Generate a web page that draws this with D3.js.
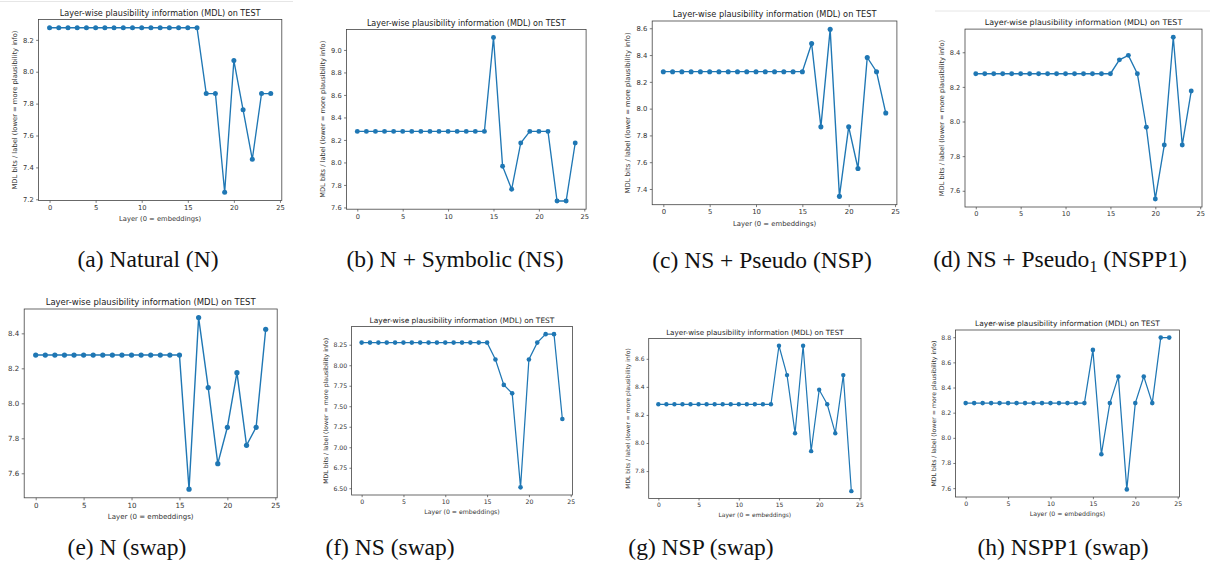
<!DOCTYPE html>
<html>
<head>
<meta charset="utf-8">
<script src="https://cdn.jsdelivr.net/npm/d3@7"></script>
<style>
  body { margin: 0; background: #fff; }
  svg { display: block; }
</style>
</head>
<body>
<svg id="chart"></svg>
<script>
// Data
const layers = [0, 1, 2, 3, 4, 5, 6, 7, 8, 9, 10, 11, 12, 13, 14, 15, 16, 17, 18, 19, 20, 21, 22, 23, 24];
const xTicks = [0, 5, 10, 15, 20, 25];

const mdlN = [8.276, 8.276, 8.276, 8.276, 8.276, 8.276, 8.276, 8.276, 8.276, 8.276, 8.276, 8.276, 8.276, 8.276, 8.276, 8.276, 8.276,
  7.863, 7.863, 7.244, 8.070, 7.761, 7.451, 7.863, 7.863];
const mdlNS = [8.276, 8.276, 8.276, 8.276, 8.276, 8.276, 8.276, 8.276, 8.276, 8.276, 8.276, 8.276, 8.276, 8.276, 8.276,
  9.110, 7.967, 7.761, 8.173, 8.276, 8.276, 8.276, 7.657, 7.657, 8.173];
const mdlNSP = [8.276, 8.276, 8.276, 8.276, 8.276, 8.276, 8.276, 8.276, 8.276, 8.276, 8.276, 8.276, 8.276, 8.276, 8.276, 8.276,
  8.486, 7.864, 8.592, 7.345, 7.864, 7.553, 8.382, 8.276, 7.967];
const mdlNSPP1 = [8.276, 8.276, 8.276, 8.276, 8.276, 8.276, 8.276, 8.276, 8.276, 8.276, 8.276, 8.276, 8.276, 8.276, 8.276, 8.276,
  8.356, 8.382, 8.276, 7.967, 7.553, 7.864, 8.487, 7.864, 8.176];
const mdlNSwap = [8.276, 8.276, 8.276, 8.276, 8.276, 8.276, 8.276, 8.276, 8.276, 8.276, 8.276, 8.276, 8.276, 8.276, 8.276, 8.276,
  7.509, 8.490, 8.090, 7.655, 7.863, 8.175, 7.760, 7.863, 8.423];
const mdlNSSwap = [8.276, 8.276, 8.276, 8.276, 8.276, 8.276, 8.276, 8.276, 8.276, 8.276, 8.276, 8.276, 8.276, 8.276, 8.276, 8.276,
  8.070, 7.760, 7.657, 6.511, 8.070, 8.276, 8.379, 8.379, 7.345];
const mdlNSPSwap = [8.276, 8.276, 8.276, 8.276, 8.276, 8.276, 8.276, 8.276, 8.276, 8.276, 8.276, 8.276, 8.276, 8.276, 8.276,
  8.693, 8.484, 8.070, 8.693, 7.942, 8.379, 8.276, 8.070, 8.484, 7.657];
const mdlNSPP1Swap = [8.276, 8.276, 8.276, 8.276, 8.276, 8.276, 8.276, 8.276, 8.276, 8.276, 8.276, 8.276, 8.276, 8.276, 8.276,
  8.699, 7.870, 8.276, 8.487, 7.590, 8.276, 8.487, 8.276, 8.797, 8.797];

// y tick labels per panel
const yTicksN = [7.2, 7.4, 7.6, 7.8, 8.0, 8.2];
const yTicksNS = [7.6, 7.8, 8.0, 8.2, 8.4, 8.6, 8.8, 9.0];
const yTicksNSP = [7.4, 7.6, 7.8, 8.0, 8.2, 8.4, 8.6];
const yTicksNSPP1 = [7.6, 7.8, 8.0, 8.2, 8.4];
const yTicksNSwap = [7.6, 7.8, 8.0, 8.2, 8.4];
const yTicksNSSwap = [6.50, 6.75, 7.00, 7.25, 7.50, 7.75, 8.00, 8.25];
const yTicksNSPSwap = [7.8, 8.0, 8.2, 8.4, 8.6];
const yTicksNSPP1Swap = [7.6, 7.8, 8.0, 8.2, 8.4, 8.6, 8.8];

const titleText = 'Layer-wise plausibility information (MDL) on TEST';
const xLabelText = 'Layer (0 = embeddings)';
const yLabelText = 'MDL bits / label (lower = more plausibility info)';

// Constants
const width = 1210;
const height = 569;
const blue = '#1f77b4';

// Panel layout: axes box in page pixels, title width, caption position
const panels = [
  { values: mdlN, ticks: yTicksN, fmt: '.1f', l: 38.5, r: 281.8, t: 19.5, b: 200.5, titleW: 201, xlabel: true, ylabel: true,
    caption: '(a) Natural (N)', cx: 148, cy: 259 },
  { values: mdlNS, ticks: yTicksNS, fmt: '.1f', l: 346.4, r: 586.1, t: 29.4, b: 209.2, titleW: 199, xlabel: false, ylabel: true,
    caption: '(b) N + Symbolic (NS)', cx: 455, cy: 259 },
  { values: mdlNSP, ticks: yTicksNSP, fmt: '.1f', l: 652.2, r: 896.9, t: 21, b: 204.7, titleW: 204, xlabel: true, ylabel: true,
    caption: '(c) NS + Pseudo (NSP)', cx: 762, cy: 260 },
  { values: mdlNSPP1, ticks: yTicksNSPP1, fmt: '.1f', l: 965, r: 1202, t: 29.1, b: 207, titleW: 198, xlabel: false, ylabel: true,
    caption: 'sub', cx: 1060, cy: 259 },
  { values: mdlNSwap, ticks: yTicksNSwap, fmt: '.1f', l: 24.2, r: 277.2, t: 309, b: 497.8, titleW: 210, xlabel: true, ylabel: false,
    caption: '(e) N (swap)', cx: 127, cy: 547 },
  { values: mdlNSSwap, ticks: yTicksNSSwap, fmt: '.2f', l: 351.6, r: 572.4, t: 326.5, b: 495, titleW: 185, xlabel: true, ylabel: true,
    caption: '(f) NS (swap)', cx: 390, cy: 547 },
  { values: mdlNSPSwap, ticks: yTicksNSPSwap, fmt: '.1f', l: 648.7, r: 861, t: 338.5, b: 498.4, titleW: 178, xlabel: true, ylabel: true,
    caption: '(g) NSP (swap)', cx: 701, cy: 547 },
  { values: mdlNSPP1Swap, ticks: yTicksNSPP1Swap, fmt: '.1f', l: 955.5, r: 1179.4, t: 330, b: 497, titleW: 185, xlabel: true, ylabel: true,
    caption: '(h) NSPP1 (swap)', cx: 1063, cy: 547 },
];

const svg = d3.select('#chart')
  .attr('width', width)
  .attr('height', height);

// faint crop lines at the top of two source images
svg.append('line').attr('x1', 0).attr('x2', 293).attr('y1', 1.5).attr('y2', 1.5)
  .attr('stroke', '#e6e6e6').attr('stroke-width', 1);
svg.append('line').attr('x1', 935).attr('x2', 1210).attr('y1', 11).attr('y2', 11)
  .attr('stroke', '#e6e6e6').attr('stroke-width', 1);

panels.forEach(p => {
  const g = svg.append('g');

  const x = d3.scaleLinear().domain([-1.2, 25.2]).range([p.l, p.r]);
  const ext = d3.extent(p.values);
  const pad = (ext[1] - ext[0]) * 0.05;
  const y = d3.scaleLinear().domain([ext[0] - pad, ext[1] + pad]).range([p.b, p.t]);

  // title, sized to the reference width
  const title = g.append('text')
    .attr('font-family', 'DejaVu Sans')
    .attr('font-size', 10)
    .attr('text-anchor', 'middle')
    .attr('fill', '#222')
    .text(titleText);
  const fs = 10 * p.titleW / title.node().getComputedTextLength();
  const tf = fs * 10 / 12;
  title.attr('font-size', fs)
    .attr('x', (p.l + p.r) / 2)
    .attr('y', p.t - 6.5)
    .attr('dy', '0.35em');

  // axes
  const xAxis = g.append('g')
    .attr('transform', `translate(0,${p.b})`)
    .call(d3.axisBottom(x).tickValues(xTicks).tickSize(0.35 * tf).tickPadding(0.35 * tf).tickSizeOuter(0));
  const yAxis = g.append('g')
    .attr('transform', `translate(${p.l},0)`)
    .call(d3.axisLeft(y).tickValues(p.ticks).tickFormat(d3.format(p.fmt)).tickSize(0.35 * tf).tickPadding(0.35 * tf).tickSizeOuter(0));
  [xAxis, yAxis].forEach(a => {
    a.select('.domain').remove();
    a.selectAll('text').attr('font-family', 'DejaVu Sans').attr('font-size', tf).attr('fill', '#333');
    a.selectAll('line').attr('stroke', '#444').attr('stroke-width', 0.7);
  });

  // frame
  g.append('rect')
    .attr('x', p.l).attr('y', p.t)
    .attr('width', p.r - p.l).attr('height', p.b - p.t)
    .attr('fill', 'none')
    .attr('stroke', '#444')
    .attr('stroke-width', 0.8);

  if (p.xlabel) {
    g.append('text')
      .attr('x', (p.l + p.r) / 2)
      .attr('y', p.b + 2.7 * tf)
      .attr('dy', '0.35em')
      .attr('text-anchor', 'middle')
      .attr('font-family', 'DejaVu Sans')
      .attr('font-size', tf)
      .attr('fill', '#333')
      .text(xLabelText);
  }

  if (p.ylabel) {
    const bb = yAxis.node().getBBox();
    const yx = p.l + bb.x - 0.9 * tf;
    g.append('text')
      .attr('transform', `translate(${yx},${(p.t + p.b) / 2}) rotate(-90)`)
      .attr('text-anchor', 'middle')
      .attr('font-family', 'DejaVu Sans')
      .attr('font-size', tf)
      .attr('fill', '#333')
      .text(yLabelText);
  }

  // line + markers
  const line = d3.line()
    .x((d, i) => x(layers[i]))
    .y(d => y(d));

  g.append('path')
    .datum(p.values)
    .attr('d', line)
    .attr('fill', 'none')
    .attr('stroke', blue)
    .attr('stroke-width', 0.2 * tf);

  g.selectAll('circle')
    .data(p.values)
    .enter()
    .append('circle')
    .attr('cx', (d, i) => x(layers[i]))
    .attr('cy', d => y(d))
    .attr('r', 0.37 * tf)
    .attr('fill', blue);

  // caption
  const cap = svg.append('text')
    .attr('x', p.cx)
    .attr('y', p.cy)
    .attr('dy', '0.32em')
    .attr('text-anchor', 'middle')
    .attr('font-family', 'Liberation Serif')
    .attr('font-size', 23.5)
    .attr('fill', '#111');
  if (p.caption === 'sub') {
    cap.append('tspan').text('(d) NS + Pseudo');
    cap.append('tspan').attr('font-size', 16).attr('dy', 5).text('1');
    cap.append('tspan').attr('dy', -5).text(' (NSPP1)');
  } else {
    cap.text(p.caption);
  }
});
</script>
</body>
</html>
